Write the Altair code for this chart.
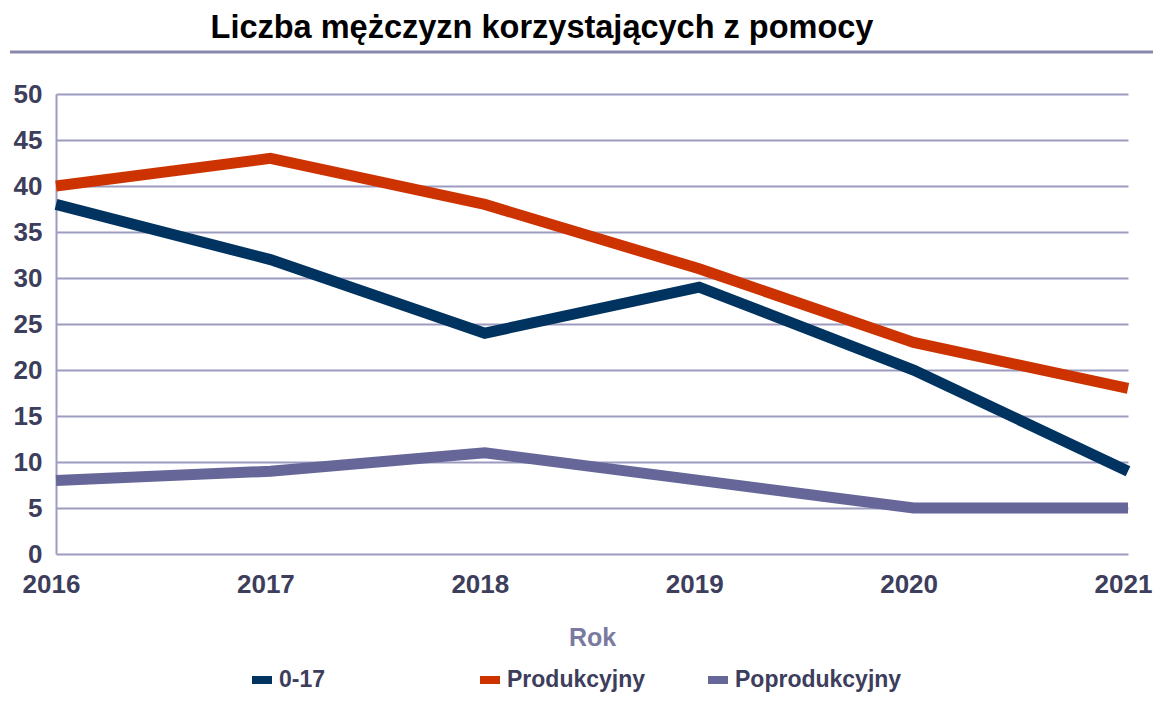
import altair as alt
import pandas as pd

years = [2016, 2017, 2018, 2019, 2020, 2021]
series_names = ["0-17", "Produkcyjny", "Poprodukcyjny"]
v_0_17 = [38, 32, 24, 29, 20, 9]
v_prod = [40, 43, 38, 31, 23, 18]
v_poprod = [8, 9, 11, 8, 5, 5]
colors = ["#00335f", "#cc3300", "#666699"]
chart_title = "Liczba mężczyzn korzystających z pomocy"

rows = []
for name, vals in zip(series_names, [v_0_17, v_prod, v_poprod]):
    for y, v in zip(years, vals):
        rows.append({"Rok": y, "Wartość": v, "Seria": name})
df = pd.DataFrame(rows)

FONT = "Liberation Sans"
LABEL_COLOR = "#3d3d5c"
GRID = "#9c9cc0"

lines = alt.Chart(df).mark_line(strokeWidth=11, strokeCap="butt", strokeJoin="miter", clip=False).encode(
    x=alt.X("Rok:Q", scale=alt.Scale(domain=[2016, 2021], nice=False, zero=False),
            axis=alt.Axis(values=years, format="d", title="Rok", grid=False, ticks=False,
                          domain=False, labelPadding=17, titlePadding=28,
                          labelOffset=-5, labelFlush=False)),
    y=alt.Y("Wartość:Q", scale=alt.Scale(domain=[0, 50], nice=False),
            axis=alt.Axis(values=list(range(0, 51, 5)), title=None, ticks=False,
                          labelPadding=14, grid=True, domain=True)),
    color=alt.Color("Seria:N", scale=alt.Scale(domain=series_names, range=colors),
                    legend=alt.Legend(title=None, orient="none", legendX=192, legendY=572,
                                      direction="horizontal", columns=3, gridAlign="all",
                                      symbolType="stroke", symbolSize=400,
                                      symbolStrokeWidth=8, labelOffset=3,
                                      columnPadding=18)),
)

title_rule = alt.Chart(pd.DataFrame({"a": [0]})).mark_rule(
    color="#8888ab", strokeWidth=3, clip=False
).encode(x=alt.value(-46), x2=alt.value(1097), y=alt.value(-42))

title_text = alt.Chart(pd.DataFrame({"t": [chart_title]})).mark_text(
    font=FONT, fontSize=32.5, fontWeight="bold", color="#000000",
    align="center", baseline="middle", clip=False
).encode(text="t:N", x=alt.value(486), y=alt.value(-66))

chart = alt.layer(title_rule, title_text, lines).properties(
    width=1072, height=460,
    padding={"left": 48, "top": 86, "right": 25, "bottom": 141},
    autosize=alt.AutoSizeParams(type="none"),
).configure_view(stroke=None).configure_axis(
    labelFont=FONT, labelFontSize=26, labelFontWeight="bold", labelColor=LABEL_COLOR,
    titleFont=FONT, titleFontSize=25, titleFontWeight="bold", titleColor="#7a7aa0",
    gridColor=GRID, gridWidth=2, gridOpacity=1, domainColor=GRID, domainWidth=2,
).configure_legend(
    labelFont=FONT, labelFontSize=23, labelFontWeight="bold", labelColor=LABEL_COLOR,
    labelLimit=400
)

chart.save("out.html", embed_options={"renderer": "svg", "actions": False})
